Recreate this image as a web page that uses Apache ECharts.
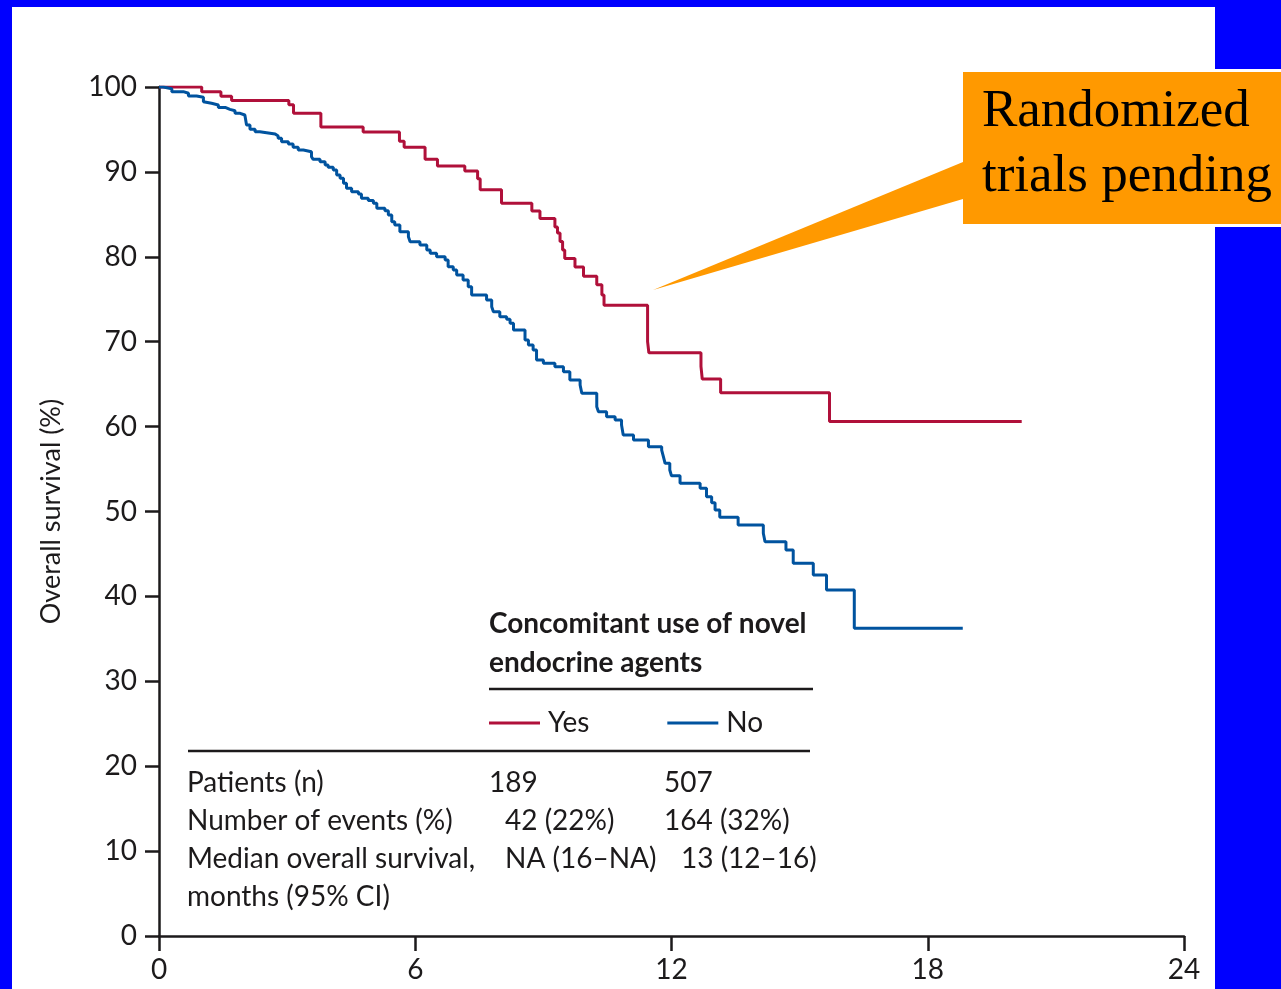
<!DOCTYPE html>
<html>
<head>
<meta charset="utf-8">
<title>Overall survival</title>
<script src="https://cdn.jsdelivr.net/npm/echarts@6/dist/echarts.min.js"></script>
<style>
  html, body { margin: 0; padding: 0; background: #0000ff; }
  #chart { width: 1281px; height: 989px; }
</style>
</head>
<body>
<div id="chart"></div>
<script>
// months at each drop, and survival (%) right after it
const yesTimes = [0, 1.0, 1.45, 1.7, 3.04, 3.15, 3.79, 4.78, 5.63, 5.74, 6.23, 6.52, 7.16, 7.46, 7.52,
  8.02, 8.73, 8.92, 9.27, 9.33, 9.39, 9.45, 9.5, 9.74, 9.94, 10.25, 10.37, 10.42, 11.44, 11.47,
  12.69, 12.72, 13.15, 15.7, 20.2];
const yesSurv = [100, 99.45, 98.9, 98.4, 97.9, 96.9, 95.3, 94.7, 93.6, 92.9, 91.5, 90.7, 90.1, 89.2, 87.9,
  86.3, 85.4, 84.5, 83.5, 82.8, 81.8, 80.8, 79.8, 78.8, 77.7, 76.7, 75.5, 74.3, 70.0, 68.7,
  67.1, 65.6, 64.0, 60.6, 60.6];

const noTimes = [0, 0.1, 0.3, 0.57, 0.69, 0.88, 1.04, 1.08, 1.23, 1.39, 1.55, 1.66, 1.78, 1.9, 2.01,
  2.05, 2.13, 2.25, 2.36, 2.52, 2.72, 2.79, 2.87, 3.03, 3.14, 3.26, 3.38, 3.57, 3.61, 3.77,
  3.89, 3.96, 4.08, 4.16, 4.24, 4.32, 4.39, 4.51, 4.67, 4.74, 4.9, 5.02, 5.1, 5.29, 5.37,
  5.45, 5.52, 5.64, 5.84, 5.88, 6.11, 6.27, 6.35, 6.5, 6.7, 6.77, 6.89, 6.97, 7.12, 7.24,
  7.32, 7.67, 7.79, 7.83, 7.98, 8.14, 8.22, 8.3, 8.57, 8.65, 8.76, 8.84, 9.0, 9.27, 9.47,
  9.62, 9.86, 9.9, 10.25, 10.29, 10.48, 10.68, 10.83, 10.87, 11.11, 11.46, 11.77, 11.81, 11.85, 11.96,
  12.0, 12.2, 12.67, 12.82, 12.94, 13.02, 13.13, 13.56, 14.15, 14.19, 14.68, 14.85, 15.32, 15.63, 16.28,
  18.82];
const noSurv = [100, 99.8, 99.45, 99.26, 98.94, 98.79, 98.27, 98.08, 97.88, 97.6, 97.37, 97.21, 96.9, 96.7, 96.5,
  95.52, 95.01, 94.74, 94.62, 94.46, 94.23, 93.96, 93.56, 93.29, 92.9, 92.58, 92.38, 91.79, 91.48, 91.2,
  90.81, 90.54, 90.22, 89.63, 89.25, 88.66, 88.07, 87.67, 87.4, 86.89, 86.62, 86.3, 85.71, 85.43, 84.92,
  84.13, 83.75, 82.96, 82.37, 81.78, 81.39, 80.8, 80.41, 80.01, 79.62, 78.83, 78.45, 77.86, 77.27, 76.48,
  75.5, 74.91, 74.12, 73.53, 72.94, 72.64, 72.17, 71.38, 70.2, 69.6, 69.02, 67.84, 67.45, 67.06, 66.47,
  65.49, 64.9, 63.92, 62.34, 61.75, 61.17, 60.78, 60.19, 59.0, 58.42, 57.63, 57.24, 56.45, 55.67, 54.89,
  54.2, 53.32, 52.73, 51.75, 51.04, 50.18, 49.32, 48.41, 47.43, 46.44, 45.46, 43.9, 42.52, 40.75, 36.24,
  36.24];

const xTicks = [0, 6, 12, 18, 24];
const groupNames = ['Yes', 'No'];
const legendTitle = ['Concomitant use of novel', 'endocrine agents'];
const rowLabels = ['Patients (n)', 'Number of events (%)', 'Median overall survival,', 'months (95% CI)'];
const yesCells = ['189', '42 (22%)', 'NA (16–NA)', ''];
const noCells = ['507', '164 (32%)', '13 (12–16)', ''];
const calloutLines = ['Randomized', 'trials pending'];

const RED = '#b0103a';
const BLUE = '#00539f';
const INK = '#1c1a1b';
const FONT = 'Lato';

function zip(ts, ss) {
  return ts.map((t, i) => [t, ss[i]]);
}

const chart = echarts.init(document.getElementById('chart'));

// table below the legend
const rowY = [786, 824, 862, 900];
const yesX = [489, 505, 505, 505];
const noX = [664, 664, 681, 681];
const tableText = [];
rowLabels.forEach((lab, i) => {
  tableText.push({ type: 'text', left: 187, top: rowY[i] - 17, z: 10,
    style: { text: lab, font: '28px ' + FONT, fill: INK } });
  if (yesCells[i]) tableText.push({ type: 'text', left: yesX[i], top: rowY[i] - 17, z: 10,
    style: { text: yesCells[i], font: '28px ' + FONT, fill: INK } });
  if (noCells[i]) tableText.push({ type: 'text', left: noX[i], top: rowY[i] - 17, z: 10,
    style: { text: noCells[i], font: '28px ' + FONT, fill: INK } });
});

const option = {
  animation: false,
  backgroundColor: '#0000ff',
  textStyle: { fontFamily: FONT },
  grid: { left: 159, top: 87, right: 97, bottom: 53, containLabel: false },
  legend: {
    data: groupNames,
    left: 489,
    top: 709,
    padding: 0,
    icon: 'rect',
    itemWidth: 51,
    itemHeight: 3,
    itemGap: 78,
    textStyle: { fontSize: 28, color: INK, fontFamily: FONT, padding: [0, 0, 0, 3] },
    selectedMode: false
  },
  xAxis: {
    type: 'value',
    min: 0,
    max: 24,
    interval: 6,
    splitLine: { show: false },
    axisLine: { show: true, onZero: false, lineStyle: { color: INK, width: 2.5 } },
    axisTick: { show: true, length: 15, lineStyle: { color: INK, width: 2.5 } },
    axisLabel: { fontSize: 28, color: INK, margin: 20, fontFamily: FONT,
      formatter: v => xTicks.includes(v) ? String(v) : '' }
  },
  yAxis: {
    type: 'value',
    min: 0,
    max: 100,
    interval: 10,
    name: 'Overall survival (%)',
    nameLocation: 'middle',
    nameGap: 94,
    nameTextStyle: { fontSize: 27, color: INK, fontFamily: FONT },
    splitLine: { show: false },
    axisLine: { show: true, lineStyle: { color: INK, width: 2.5 } },
    axisTick: { show: true, length: 14, lineStyle: { color: INK, width: 2.5 } },
    axisLabel: { fontSize: 28, color: INK, margin: 22, fontFamily: FONT }
  },
  series: [
    {
      name: groupNames[0],
      type: 'line',
      step: 'end',
      showSymbol: false,
      color: RED,
      lineStyle: { color: RED, width: 3 },
      data: zip(yesTimes, yesSurv),
      z: 3
    },
    {
      name: groupNames[1],
      type: 'line',
      step: 'end',
      showSymbol: false,
      color: BLUE,
      lineStyle: { color: BLUE, width: 3 },
      data: zip(noTimes, noSurv),
      z: 3
    }
  ],
  graphic: [
    // white page area inside the blue frame
    { type: 'rect', shape: { x: 12, y: 7, width: 1203, height: 982 }, style: { fill: '#ffffff' }, z: -10, silent: true },
    // legend heading and rules
    { type: 'text', left: 489, top: 610, z: 10,
      style: { text: legendTitle[0], font: 'bold 28px ' + FONT, fill: INK } },
    { type: 'text', left: 489, top: 649, z: 10,
      style: { text: legendTitle[1], font: 'bold 28px ' + FONT, fill: INK } },
    { type: 'line', shape: { x1: 489, y1: 689, x2: 813, y2: 689 }, style: { stroke: INK, lineWidth: 2.5 }, z: 10 },
    { type: 'line', shape: { x1: 188, y1: 751, x2: 810, y2: 751 }, style: { stroke: INK, lineWidth: 2.5 }, z: 10 },
    ...tableText,
    // callout
    { type: 'polygon', shape: { points: [[653, 290], [963, 162], [963, 199]] }, style: { fill: '#ff9900' }, z: 20 },
    { type: 'rect', shape: { x: 963, y: 69, width: 318, height: 158 }, style: { fill: '#ffffff' }, z: 20 },
    { type: 'rect', shape: { x: 963, y: 72, width: 318, height: 152 }, style: { fill: '#ff9900' }, z: 21 },
    { type: 'text', left: 982, top: 86, z: 22,
      style: { text: calloutLines[0], font: '53px "Liberation Serif"', fill: '#000000' } },
    { type: 'text', left: 982, top: 151, z: 22,
      style: { text: calloutLines[1], font: '53px "Liberation Serif"', fill: '#000000' } }
  ]
};

chart.setOption(option);
</script>
</body>
</html>
